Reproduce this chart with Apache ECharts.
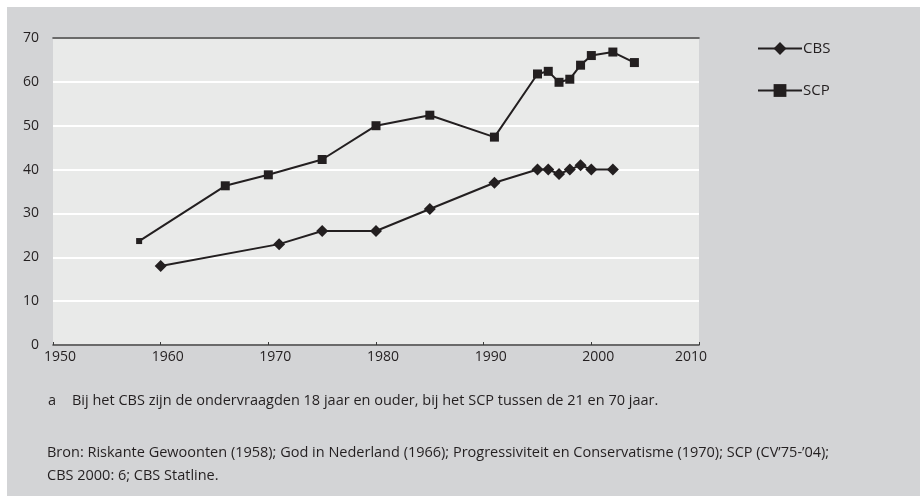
<!DOCTYPE html>
<html>
<head>
<meta charset="utf-8">
<script src="https://cdn.jsdelivr.net/npm/echarts@6/dist/echarts.min.js"></script>
<style>
  html, body { margin: 0; padding: 0; background: #ffffff; }
  #frame { position: absolute; left: 7px; top: 7px; width: 913px; height: 489px; background: #d3d4d6; }
  #chart { position: absolute; left: 0; top: 0; width: 920px; height: 496px; }
</style>
</head>
<body>
<div id="frame"></div>
<div id="chart"></div>
<script>
// jaartallen en percentages
const cbsYears = [1960, 1971, 1975, 1980, 1985, 1991, 1995, 1996, 1997, 1998, 1999, 2000, 2002]
const cbsValues = [18, 23, 26, 26, 31, 37, 40, 40, 39, 40, 41, 40, 40]
const scpYears = [1958, 1966, 1970, 1975, 1980, 1985, 1991, 1995, 1996, 1997, 1998, 1999, 2000, 2002, 2004]
const scpValues = [23.7, 36.3, 38.8, 42.3, 50, 52.4, 47.4, 61.8, 62.4, 59.9, 60.6, 63.8, 66, 66.8, 64.4]
const yearTicks = [1950, 1960, 1970, 1980, 1990, 2000, 2010]
const valueTicks = [0, 10, 20, 30, 40, 50, 60, 70]

const noteMark = 'a'
const noteLine = 'Bij het CBS zijn de ondervraagden 18 jaar en ouder, bij het SCP tussen de 21 en 70 jaar.'
const sourceLines = [
  'Bron: Riskante Gewoonten (1958); God in Nederland (1966); Progressiviteit en Conservatisme (1970); SCP (CV\u201975-\u201904);',
  'CBS 2000: 6; CBS Statline.'
]

const font = "'Open Sans', sans-serif"
const ink = '#231f20'

const pairs = (xs, ys) => xs.map((x, i) => [x, ys[i]])

const chart = echarts.init(document.getElementById('chart'))
chart.setOption({
  backgroundColor: 'transparent',
  animation: false,
  textStyle: { fontFamily: font },
  grid: {
    left: 53, right: 221, top: 38, bottom: 151,
    show: true, backgroundColor: '#e9eae9', borderWidth: 0
  },
  legend: {
    orient: 'vertical',
    left: 757, top: 41, padding: 0,
    itemWidth: 44, itemHeight: 16, itemGap: 27,
    textStyle: { fontSize: 15, color: ink, fontFamily: font, padding: [0, 0, 0, -4] },
    data: ['CBS', 'SCP']
  },
  graphic: [
    { type: 'text', left: 48, top: 393, style: { text: noteMark, font: '14.5px ' + font, fill: ink } },
    { type: 'text', left: 72, top: 393, style: { text: noteLine, font: '14.5px ' + font, fill: ink } },
    { type: 'text', left: 47, top: 441, style: { text: sourceLines.join('\n'), font: '14.5px ' + font, fill: ink, lineHeight: 23 } }
  ],
  xAxis: [
    {
      type: 'value', min: yearTicks[0], max: yearTicks[yearTicks.length - 1], interval: 10,
      axisLine: { lineStyle: { color: '#3a3a3a', width: 1.5 } },
      axisTick: { show: true, inside: true, length: 3, lineStyle: { color: '#3a3a3a' } },
      axisLabel: {
        fontSize: 14, color: ink, margin: 5,
        formatter: v => (v === yearTicks[yearTicks.length - 1] ? '{last|' + v + '}' : '{yr|' + v + '}'),
        rich: {
          yr: { fontSize: 14, color: ink, fontFamily: font, padding: [0, 0, 0, 14] },
          last: { fontSize: 14, color: ink, fontFamily: font, padding: [0, 16, 0, 0] }
        }
      },
      splitLine: { show: false }
    },
    {
      type: 'value', position: 'top', min: yearTicks[0], max: yearTicks[yearTicks.length - 1],
      axisLine: { show: true, lineStyle: { color: '#3a3a3a', width: 1.5 } },
      axisTick: { show: false }, axisLabel: { show: false }, splitLine: { show: false }
    }
  ],
  yAxis: {
    type: 'value', min: valueTicks[0], max: valueTicks[valueTicks.length - 1], interval: 10,
    axisLine: { show: false },
    axisTick: { show: false },
    axisLabel: { fontSize: 14, color: ink, margin: 14 },
    splitLine: { lineStyle: { color: '#ffffff', width: 2 } }
  },
  series: [
    {
      name: 'CBS', type: 'line',
      data: pairs(cbsYears, cbsValues),
      symbol: 'diamond', symbolSize: 12,
      lineStyle: { color: ink, width: 2 },
      itemStyle: { color: ink }
    },
    {
      name: 'SCP', type: 'line',
      data: pairs(scpYears, scpValues),
      symbol: 'rect', symbolSize: (v, p) => (p.dataIndex === 0 ? 6 : 9),
      lineStyle: { color: ink, width: 2 },
      itemStyle: { color: ink }
    }
  ]
})
</script>
</body>
</html>
